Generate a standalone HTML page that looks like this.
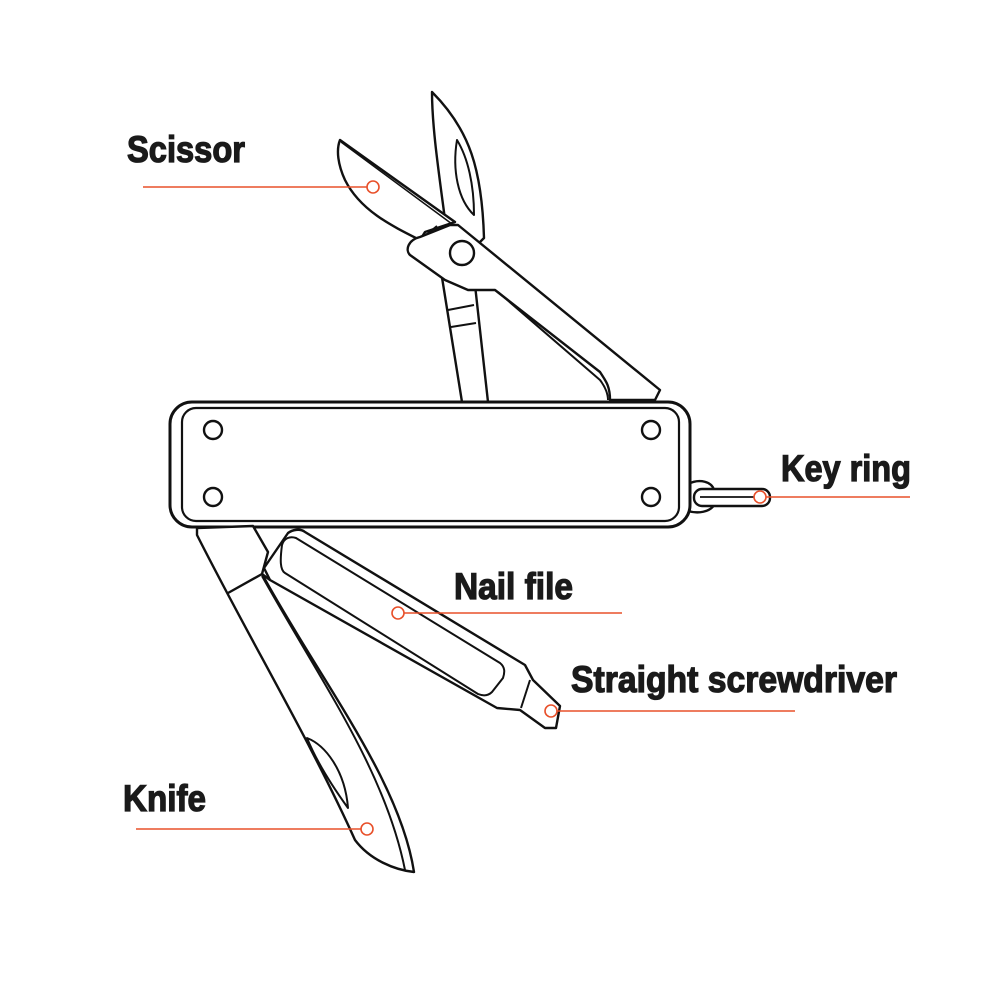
<!DOCTYPE html>
<html><head><meta charset="utf-8"><style>
html,body{margin:0;padding:0;background:#fff;}
svg{display:block}
text{font-family:"Liberation Sans Narrow","Liberation Sans",sans-serif;font-weight:bold;fill:#1a1a1a;stroke:#1a1a1a;stroke-width:1.3;}
</style></head><body>
<svg width="1000" height="1000" viewBox="0 0 1000 1000" xmlns="http://www.w3.org/2000/svg">
<g fill="none" stroke="#111" stroke-width="2.4" stroke-linejoin="round">
 <!-- scissors upper blade -->
 <path d="M432,92 C470,130 482,170 484,238 L476,246 L447,235 C440,180 432,130 432,92 Z" fill="#fff"/>
 <path d="M457,140 C452,170 458,200 474,215 C474,185 468,158 457,140 Z" stroke-width="2"/>
 <!-- lower shank -->
 <path d="M440,265 L462,402 L488,402 L475,285" fill="#fff"/>
 <path d="M448,310 L474,305 M451,327 L476,323" stroke-width="2"/>
 <!-- left blade -->
 <path d="M340,140 L455,222 L425,232 L420,240 C390,225 360,210 345,180 C338,165 336,150 340,140 Z" fill="#fff"/>
 <path d="M341,142 L452,224" stroke-width="1.5"/>
 <path d="M420,240 L437,226" stroke-width="2"/>
 <!-- handle -->
 <path d="M458,225 L660,390 L655,400 L610,400 C610,385 605,380 600,372 L495,290 L468,290 L445,280 L410,255 C405,250 408,240 420,237 L450,225 Z" fill="#fff"/>
 <path d="M498,292 L600,380 C606,388 608,395 608,400" stroke-width="2"/>
 <circle cx="462" cy="253" r="12" fill="#fff"/>
 <!-- key ring -->
 <path d="M688,484 C700,478 712,482 714,490 L714,505 C710,512 698,514 688,511" fill="#fff"/>
 <rect x="694" y="489" width="76" height="17" rx="8" fill="#fff"/>
 <path d="M700,497 L765,497" stroke-width="1.8"/>
 <!-- body -->
 <rect x="170" y="402" width="520" height="125" rx="22" fill="#fff" stroke-width="3"/>
 <rect x="182" y="408" width="497" height="113" rx="14" stroke-width="2.2"/>
 <circle cx="213" cy="430" r="9"/><circle cx="651" cy="430" r="9"/>
 <circle cx="213" cy="497" r="9"/><circle cx="651" cy="497" r="9"/>
 <!-- knife -->
 <path d="M197,528 L253,526 L268,552 L262,574 C320,680 400,780 414,872 C395,870 370,860 355,840 C310,740 250,640 197,535 Z" fill="#fff"/>
 <path d="M228,593 L262,574" />
 <path d="M262,576 C320,680 385,770 405,870" stroke-width="2"/>
 <path d="M307,738 C325,745 345,770 348,808 C335,790 318,765 307,738 Z" stroke-width="2"/>
 <!-- nail file -->
 <path d="M264,568 L288,533 C292,530 300,528 305,532 L525,665 L533,680 L560,706 L556,728 L545,728 L520,710 L497,708 L270,580 Z" fill="#fff"/>
 <path d="M282,545 C284,538 290,536 296,538 L500,663 C505,667 505,672 503,678 L492,692 C488,696 483,696 478,694 L285,573 C280,570 280,560 282,545 Z" stroke-width="2"/>
 <path d="M521,708 L530,680" stroke-width="2"/>
 <path d="M262,574 L270,580" />
</g>
<g stroke="#e8502a" stroke-width="1.6" fill="#fff">
 <line x1="143" y1="187" x2="367" y2="187"/><circle cx="373" cy="187" r="6"/>
 <line x1="766" y1="497" x2="910" y2="497"/><circle cx="760" cy="497" r="6"/>
 <line x1="404" y1="613" x2="622" y2="613"/><circle cx="398" cy="613" r="6"/>
 <line x1="557" y1="711" x2="795" y2="711"/><circle cx="551" cy="711" r="6"/>
 <line x1="136" y1="829" x2="361" y2="829"/><circle cx="367" cy="829" r="6"/>
</g>
<g font-size="37">
 <text x="127" y="162" textLength="118" lengthAdjust="spacingAndGlyphs">Scissor</text>
 <text x="781" y="481" textLength="130" lengthAdjust="spacingAndGlyphs">Key ring</text>
 <text x="454" y="599" textLength="119" lengthAdjust="spacingAndGlyphs">Nail file</text>
 <text x="571" y="692" textLength="326" lengthAdjust="spacingAndGlyphs">Straight screwdriver</text>
 <text x="123" y="811" textLength="83" lengthAdjust="spacingAndGlyphs">Knife</text>
</g>
</svg>
</body></html>
